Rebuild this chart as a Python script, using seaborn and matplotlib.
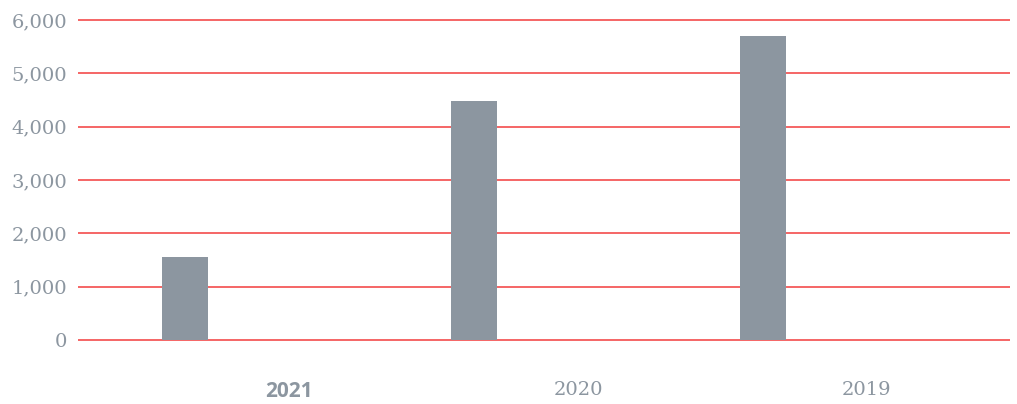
import numpy as np
import pandas as pd
import seaborn as sns
import matplotlib.pyplot as plt
from matplotlib.ticker import FuncFormatter

# values
years = ['2021', '2020', '2019']
values = [1555, 4480, 5700]
y_ticks = [0, 1000, 2000, 3000, 4000, 5000, 6000]

bar_color = '#8c96a0'
text_color = '#8c96a0'
grid_color = '#f23c3c'

sns.set_theme(style='white')
plt.rcParams['font.family'] = ['DejaVu Serif']

fig = plt.figure(figsize=(10.17, 4.04), dpi=100)
ax = fig.add_axes([78 / 1017, 61.87 / 404, 932 / 1017, 324.27 / 404])

# each bar sits at the left of its year slot
pos = np.arange(len(years)) - 0.36
df = pd.DataFrame({'pos': pos, 'value': values})
sns.barplot(data=df, x='pos', y='value', native_scale=True, width=0.159,
            color=bar_color, saturation=1, linewidth=0, ax=ax, zorder=3)

ax.set_xlim(-0.73, 2.495)
ax.set_ylim(-40, 6040)
ax.set_yticks(y_ticks)
ax.yaxis.set_major_formatter(FuncFormatter(lambda v, p: f'{int(v):,}'))
ax.set_xticks(np.arange(len(years)))
ax.set_xticklabels(years)
ax.yaxis.grid(True, color=grid_color, linewidth=1.1, zorder=0)
ax.set_axisbelow(True)
for s in ax.spines.values():
    s.set_visible(False)
ax.tick_params(axis='both', length=0, labelsize=14, labelcolor=text_color)
ax.tick_params(axis='y', pad=8)
ax.tick_params(axis='x', pad=28)
ax.set_xlabel('')
ax.set_ylabel('')

lbl = ax.get_xticklabels()[0]
lbl.set_fontfamily(['Open Sans', 'DejaVu Sans'])
lbl.set_fontweight('bold')
lbl.set_fontsize(15)

plt.savefig('out.png', dpi=100)
